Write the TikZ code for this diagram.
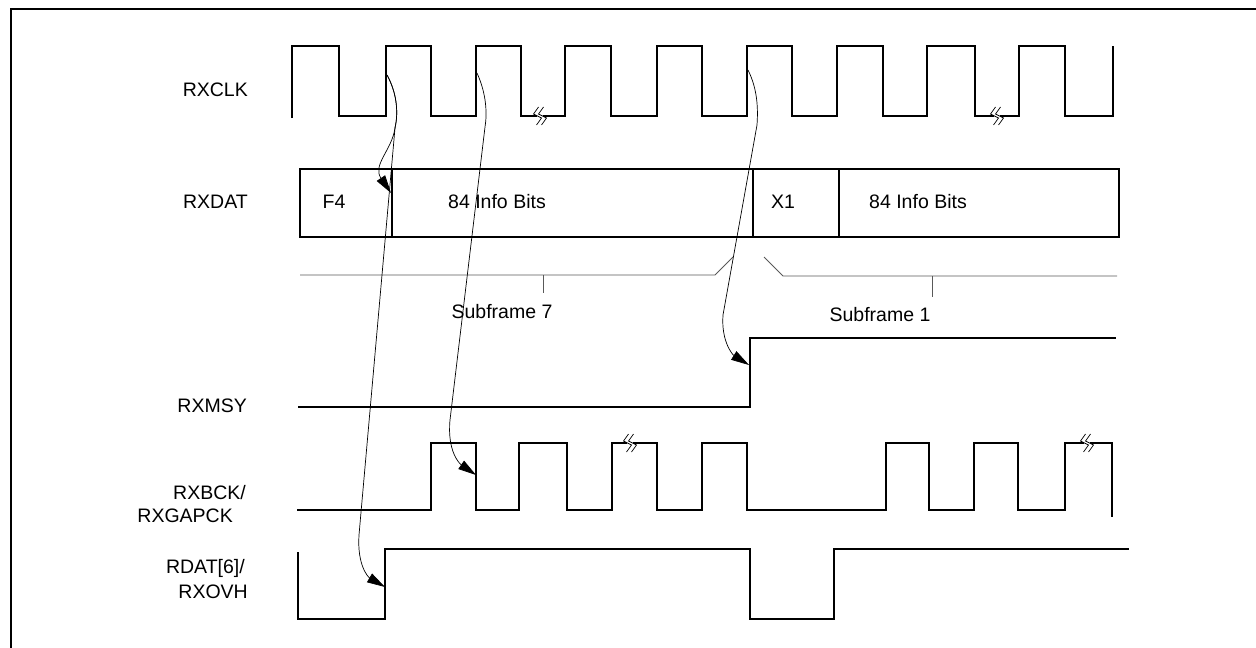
\documentclass[tikz,border=0pt]{standalone}
\usepackage{fontspec}
\setmainfont{Liberation Sans}
\usetikzlibrary{arrows.meta, positioning}

\begin{document}
\begin{tikzpicture}[x=1pt, y=-1pt, >={Triangle[length=18pt, width=10pt]}]
        \tikzstyle{signal} = [line width=1.6pt, line join=miter]
        \tikzstyle{txt} = [font=\fontsize{19.5}{23}\selectfont, inner sep=0pt]
        \tikzstyle{lbl} = [txt, anchor=east]
        \tikzstyle{brace} = [black!65, line width=0.8pt]
        \tikzstyle{sync} = [->, line width=0.7pt]

        \useasboundingbox (0,0) rectangle (1256,648);
        \draw[line width=2pt] (1256,9) -- (11,9) -- (11,648);

        % Nombres de las señales
        \node[lbl] (clk) at (248,90) {RXCLK};
        \node[lbl] (dat) at (248,202) {RXDAT};
        \node[lbl] (msy) at (247,406) {RXMSY};
        \node[lbl] (bck) at (246,493) {RXBCK/};
        \node[lbl] (gap) at (233,516) {RXGAPCK};
        \node[lbl] (rdat) at (245,568) {RDAT[6]/};
        \node[lbl] (ovh) at (248,592) {RXOVH};

        % Reloj RXCLK
        \draw[signal] (292,118) -- (292,46)
          \foreach \a/\b in {339/386, 431/476, 521/565, 611/657, 702/747,
                             792/837, 883/927, 975/1019, 1065/1113}
          { -- (\a,46) -- (\a,116) -- (\b,116) -- (\b,46) };

        % Trama RXDAT
        \draw[signal] (300,169) rectangle (1119,237);
        \draw[signal] (392,169) -- (392,237);
        \draw[signal] (753,169) -- (753,237);
        \draw[signal] (839,169) -- (839,237);
        \node[txt] (f4) at (334,202) {F4};
        \node[txt] (info7) at (497,202) {84 Info Bits};
        \node[txt] (x1) at (783,202) {X1};
        \node[txt] (info1) at (918,202) {84 Info Bits};

        % Subtramas
        \draw[brace] (300,275) -- (715,275) -- (733,257);
        \draw[brace] (543,275) -- (543,293);
        \node[txt] (sub7) at (502,312) {Subframe 7};
        \draw[brace] (764,257) -- (783,276) -- (1117,276);
        \draw[brace] (932,276) -- (932,297);
        \node[txt] (sub1) at (880,315) {Subframe 1};

        % RXMSY
        \draw[signal] (298,407) -- (750,407) -- (750,338) -- (1116,338);

        % RXBCK / RXGAPCK
        \draw[signal] (297,510) -- (431,510) -- (431,443) -- (476,443) -- (476,510)
          -- (519,510) -- (519,443) -- (567,443) -- (567,510) -- (612,510)
          -- (612,443) -- (657,443) -- (657,510) -- (702,510) -- (702,443)
          -- (747,443) -- (747,510) -- (886,510) -- (886,443) -- (929,443)
          -- (929,510) -- (974,510) -- (974,443) -- (1018,443) -- (1018,510)
          -- (1065,510) -- (1065,443) -- (1112,443) -- (1112,517);

        % RDAT[6] / RXOVH
        \draw[signal] (298,552) -- (298,619) -- (385,619) -- (385,549) -- (750,549)
          -- (750,619) -- (834,619) -- (834,549) -- (1129,549);

        % Cortes
        \foreach \x/\y in {540/116, 997/116, 630/443, 1087/443} {
          \fill[white] (\x-3,\y-3) rectangle (\x+3,\y+3);
          \foreach \d in {-2.5, 2.5}
            \draw[line width=0.7pt] (\x+\d+1,\y-9) -- (\x+\d-4,\y-2) -- (\x+\d+4,\y+2) -- (\x+\d-1,\y+9);
        }

        % Flancos de sincronismo
        \coordinate (clkA) at (387,75);
        \coordinate (clkB) at (477,73);
        \coordinate (clkC) at (748,70);
        \coordinate (f4edge) at (391,193);
        \coordinate (ovhedge) at (385,587);
        \coordinate (bckedge) at (476,475);
        \coordinate (msyedge) at (749,365);

        \draw[sync] (clkA) .. controls (398,95) and (398,115) .. (395,128)
          .. controls (392,150) and (372,165) .. (f4edge);
        \draw[sync] (clkA) .. controls (398,95) and (398,115) .. (395,128)
          -- (359,535) .. controls (357,565) and (368,577) .. (ovhedge);
        \draw[sync] (clkB) .. controls (487,95) and (487,115) .. (485,127)
          -- (450,420) .. controls (447,452) and (460,464) .. (bckedge);
        \draw[sync] (clkC) .. controls (758,90) and (758,110) .. (757,125)
          -- (723,315) .. controls (721,342) and (733,355) .. (msyedge);

        \end{tikzpicture}
\end{document}
